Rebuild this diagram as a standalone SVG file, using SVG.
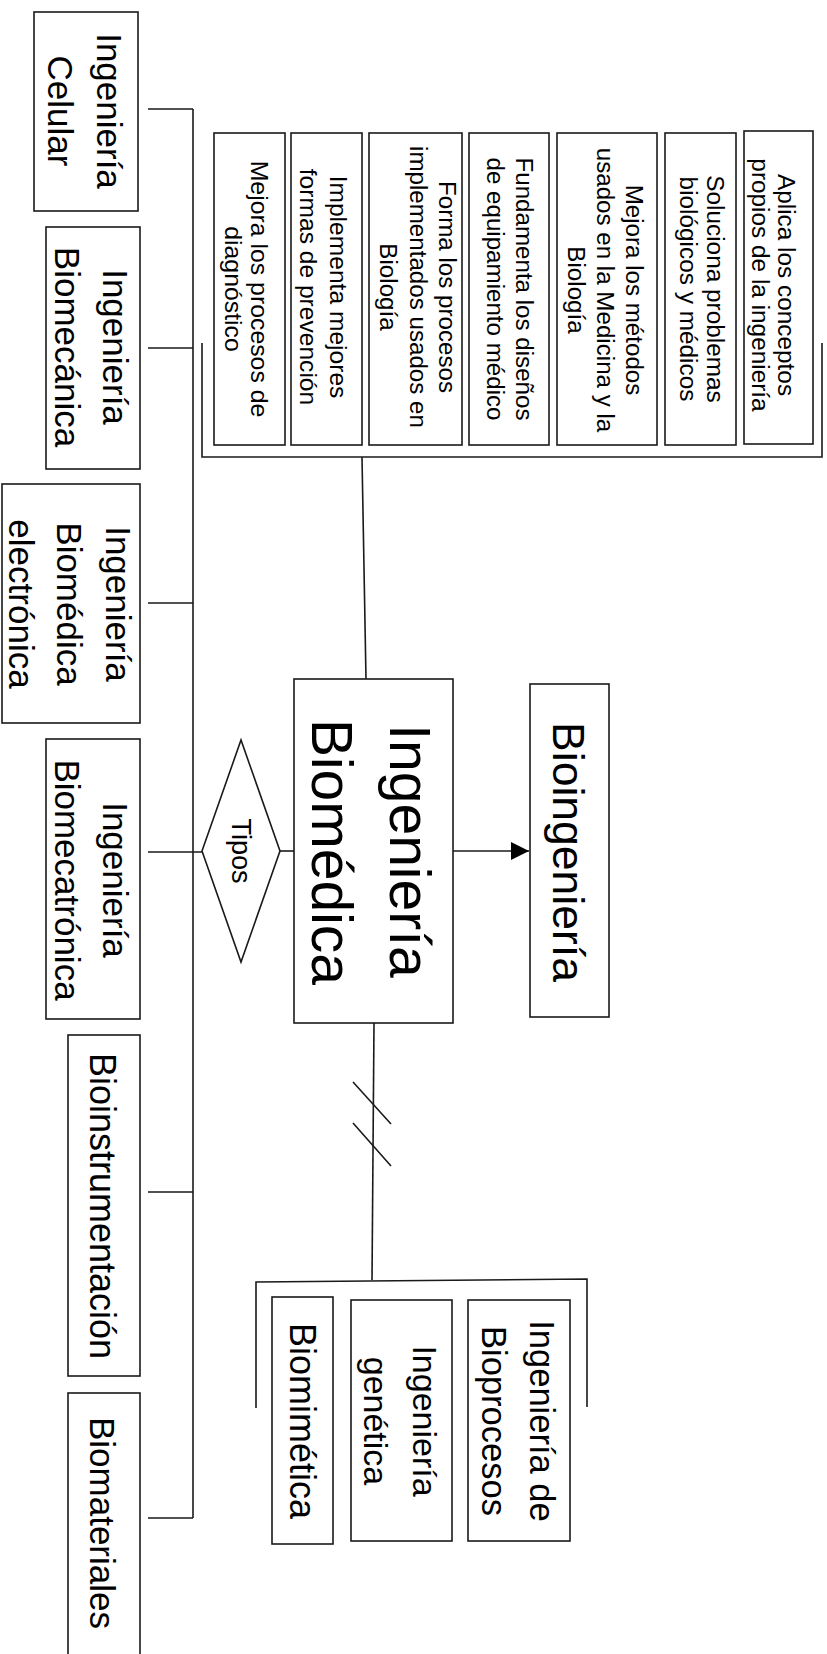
<svg xmlns="http://www.w3.org/2000/svg" width="827" height="1654" viewBox="0 0 827 1654">
<style>
.b{fill:#fff;stroke:#1a1a1a;stroke-width:1.6}
.l{fill:none;stroke:#1a1a1a;stroke-width:1.6}
text{font-family:"Liberation Sans",Arial,sans-serif;fill:#000;text-anchor:middle}
.t35{font-size:35px}
.d{font-size:23px}
</style>
<defs>
<marker id="ah" viewBox="0 0 10 10" refX="10" refY="5" markerWidth="18" markerHeight="18" markerUnits="userSpaceOnUse" orient="auto">
<path d="M0,0 L10,5 L0,10 Z" fill="#000"/>
</marker>
</defs>
<rect width="827" height="1654" fill="#fff"/>

<g id="connectors">
<path class="l" d="M193,109 V1518"/>
<path class="l" d="M148,109 H193 M148,348 H193 M148,603 H193 M148,852 H202 M148,1192 H193 M148,1518 H193"/>
<path class="l" d="M280,851 H294"/>
<path class="l" d="M453,851 H529" marker-end="url(#ah)"/>
<path class="l" d="M202,343 V457 H822 V343"/>
<path class="l" d="M362,457 L366,679"/>
<path class="l" d="M374,1023 L372,1280"/>
<path class="l" d="M353,1082 L391,1124 M353,1123 L391,1166"/>
<path class="l" d="M256,1408 V1282 L587,1279 V1407"/>
</g>

<g id="n-celular">
<rect class="b" x="34" y="12" width="104" height="199"/>
<text class="t35" transform="rotate(90)"><tspan x="111" y="-97">Ingeniería</tspan><tspan x="111" y="-48">Celular</tspan></text>
</g>
<g id="n-biomecanica">
<rect class="b" x="46" y="227" width="94" height="242"/>
<text class="t35" transform="rotate(90)"><tspan x="347" y="-103">Ingeniería</tspan><tspan x="347" y="-55">Biomecánica</tspan></text>
</g>
<g id="n-electronica">
<rect class="b" x="2" y="484" width="138" height="239"/>
<text class="t35" transform="rotate(90)"><tspan x="604" y="-106">Ingeniería</tspan><tspan x="604" y="-57">Biomédica</tspan><tspan x="604" y="-9">electrónica</tspan></text>
</g>
<g id="n-biomecatronica">
<rect class="b" x="46" y="739" width="94" height="280"/>
<text class="t35" transform="rotate(90)"><tspan x="880" y="-103">Ingeniería</tspan><tspan x="880" y="-55">Biomecatrónica</tspan></text>
</g>
<g id="n-bioinstrumentacion">
<rect class="b" x="68" y="1035" width="72" height="341"/>
<text class="t35" transform="rotate(90)" x="1206" y="-90" style="font-size:36px">Bioinstrumentación</text>
</g>
<g id="n-biomateriales">
<rect class="b" x="68" y="1393" width="72" height="270"/>
<text class="t35" transform="rotate(90)" x="1523" y="-90">Biomateriales</text>
</g>

<g id="n-tipos">
<polygon class="b" points="202,851 241,740 280,851 241,962"/>
<text transform="rotate(90)" x="851" y="-232" style="font-size:27px">Tipos</text>
</g>

<g id="n-main">
<rect class="b" x="294" y="679" width="159" height="344"/>
<text transform="rotate(90)" style="font-size:57px"><tspan x="851" y="-390">Ingeniería</tspan><tspan x="852" y="-312">Biomédica</tspan></text>
</g>

<g id="n-bioingenieria">
<rect class="b" x="530" y="684" width="79" height="333"/>
<text transform="rotate(90)" x="852" y="-553" style="font-size:44.5px">Bioingeniería</text>
</g>

<g id="d1">
<rect class="b" x="214" y="133" width="71" height="312"/>
<text class="d" transform="translate(0,289) rotate(90) scale(1.08,1)"><tspan x="0" y="-251">Mejora los procesos de</tspan><tspan x="0" y="-225">diagnóstico</tspan></text>
</g>
<g id="d2">
<rect class="b" x="291" y="133" width="71" height="312"/>
<text class="d" transform="translate(0,287) rotate(90) scale(1.07,1)"><tspan x="0" y="-330">Implementa mejores</tspan><tspan x="0" y="-300">formas de prevención</tspan></text>
</g>
<g id="d3">
<rect class="b" x="369" y="133" width="93" height="312"/>
<text class="d" transform="translate(0,287) rotate(90) scale(1.05,1)"><tspan x="0" y="-439">Forma los procesos</tspan><tspan x="0" y="-410">implementados usados en</tspan><tspan x="0" y="-380">Biología</tspan></text>
</g>
<g id="d4">
<rect class="b" x="469" y="133" width="80" height="312"/>
<text class="d" transform="translate(0,289) rotate(90) scale(1.05,1)"><tspan x="0" y="-516">Fundamenta los diseños</tspan><tspan x="0" y="-487">de equipamiento médico</tspan></text>
</g>
<g id="d5">
<rect class="b" x="557" y="133" width="100" height="312"/>
<text class="d" transform="translate(0,290) rotate(90) scale(1.05,1)"><tspan x="0" y="-626">Mejora los métodos</tspan><tspan x="0" y="-597">usados en la Medicina y la</tspan><tspan x="0" y="-568">Biología</tspan></text>
</g>
<g id="d6">
<rect class="b" x="665" y="133" width="71" height="312"/>
<text class="d" transform="translate(0,289) rotate(90) scale(1.06,1)"><tspan x="0" y="-707">Soluciona problemas</tspan><tspan x="0" y="-680">biológicos y médicos</tspan></text>
</g>
<g id="d7">
<rect class="b" x="744" y="131" width="69" height="313"/>
<text class="d" transform="translate(0,285) rotate(90) scale(1.06,1)"><tspan x="0" y="-778">Aplica los conceptos</tspan><tspan x="0" y="-752">propios de la ingeniería</tspan></text>
</g>

<g id="n-biomimetica">
<rect class="b" x="272" y="1297" width="61" height="247"/>
<text transform="rotate(90)" x="1421" y="-290" style="font-size:36px">Biomimética</text>
</g>
<g id="n-genetica">
<rect class="b" x="351" y="1300" width="101" height="241"/>
<text class="t35" transform="rotate(90)" style="font-size:34px"><tspan x="1421" y="-413">Ingeniería</tspan><tspan x="1421" y="-364">genética</tspan></text>
</g>
<g id="n-bioprocesos">
<rect class="b" x="468" y="1300" width="102" height="241"/>
<text class="t35" transform="rotate(90)" style="font-size:34.5px"><tspan x="1421" y="-530">Ingeniería de</tspan><tspan x="1421" y="-482">Bioprocesos</tspan></text>
</g>
</svg>
